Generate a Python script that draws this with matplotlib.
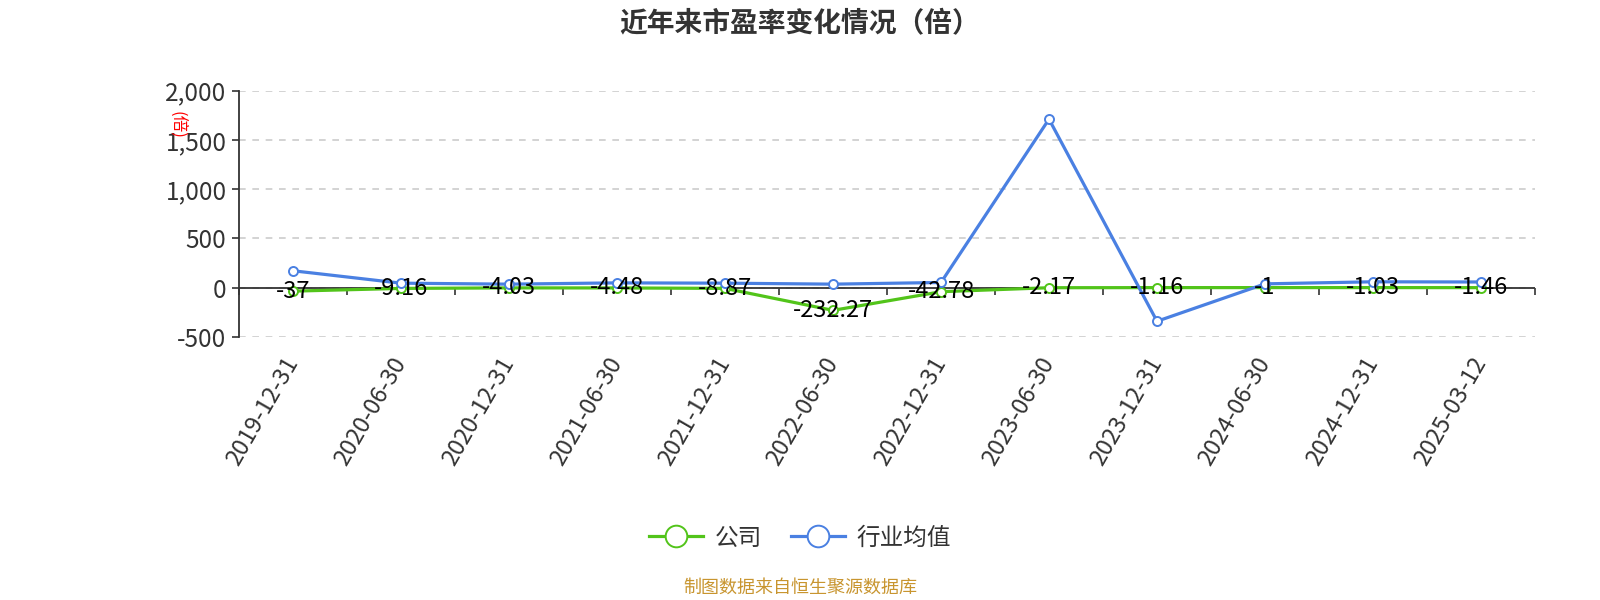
import matplotlib
matplotlib.use("Agg")
import matplotlib.pyplot as plt
from matplotlib.ticker import FuncFormatter, FixedLocator
import numpy as np

plt.rcParams['font.family'] = ['Noto Sans CJK SC', 'DejaVu Sans']
plt.rcParams['axes.unicode_minus'] = False

categories = ["2019-12-31", "2020-06-30", "2020-12-31", "2021-06-30", "2021-12-31",
              "2022-06-30", "2022-12-31", "2023-06-30", "2023-12-31", "2024-06-30",
              "2024-12-31", "2025-03-12"]
company = [-37, -9.16, -4.03, -4.48, -8.87, -232.27, -42.78, -2.17, -1.16, -1, -1.03, -1.46]
company_labels = ["-37", "-9.16", "-4.03", "-4.48", "-8.87", "-232.27", "-42.78", "-2.17",
                  "-1.16", "-1", "-1.03", "-1.46"]
industry = [170, 44, 34, 47, 44, 34, 51, 1711, -343, 37, 58, 56]
y_ticks = [-500, 0, 500, 1000, 1500, 2000]

GREEN = '#52c41a'
BLUE = '#4a80e2'
DARK = '#333333'

fig = plt.figure(figsize=(16, 6), dpi=100)
ax = fig.add_axes([239/1600, 1-336.7/600, (1535-239)/1600, (336.7-90.7)/600])

x = np.arange(len(categories))
ax.plot(x, company, color=GREEN, lw=2.3, marker='o', ms=6.5, mfc='white',
        mec=GREEN, mew=1.4, label='公司', zorder=4)
ax.plot(x, industry, color=BLUE, lw=2.3, marker='o', ms=6.5, mfc='white',
        mec=BLUE, mew=1.4, label='行业均值', zorder=5)

for xi, v, s in zip(x, company, company_labels):
    ax.text(xi, v, s, ha='center', va='center', fontsize=17, color='black', zorder=6)

ax.set_xlim(-0.5, len(categories) - 0.5)
ax.set_ylim(min(y_ticks), max(y_ticks))
ax.set_yticks(y_ticks)
ax.yaxis.set_major_formatter(FuncFormatter(lambda v, p: f"{int(v):,}"))
ax.tick_params(axis='y', labelsize=17.5, colors=DARK, length=5, width=1.2, pad=4)

ax.set_xticks(x)
ax.set_xticklabels(categories, rotation=60, ha='right', va='center',
                   rotation_mode='anchor', fontsize=17, color=DARK)
ax.tick_params(axis='x', length=0, pad=16)

for sp in ['top', 'right', 'bottom']:
    ax.spines[sp].set_visible(False)
ax.spines['left'].set_color(DARK)
ax.spines['left'].set_linewidth(1.3)

ax.yaxis.grid(True, linestyle=(0, (4, 4)), color='#cccccc', lw=1.2)
ax.set_axisbelow(True)

# x axis line at zero with band-boundary ticks
ax.axhline(0, color=DARK, lw=1.3, zorder=2.5)
sec = ax.secondary_xaxis((0 - min(y_ticks)) / (max(y_ticks) - min(y_ticks)))
sec.xaxis.set_major_locator(FixedLocator(list(np.arange(len(categories) + 1) - 0.5)))
sec.set_xticklabels([])
sec.tick_params(axis='x', direction='out', length=5, width=1.2, color=DARK)
for sp in ['top', 'left', 'right', 'bottom']:
    sec.spines[sp].set_visible(False)

fig.text(800/1600, 1-24/600, '近年来市盈率变化情况（倍）', ha='center', va='center',
         fontsize=20, fontweight='bold', color=DARK)
fig.text(177/1600, 1-125/600, '(倍)', ha='center', va='center', rotation=-90,
         fontsize=12, color='red')

leg = fig.legend(loc='center', bbox_to_anchor=(0.5, 1-538/600), ncol=2, frameon=False,
                 fontsize=17, markerscale=2.4, handlelength=2.3, columnspacing=1.2,
                 handletextpad=0.5)
for t in leg.get_texts():
    t.set_color(DARK)

fig.text(0.5, 1-588/600, '制图数据来自恒生聚源数据库', ha='center', va='center',
         fontsize=13, color='#c8952f')

fig.savefig('out.png', dpi=100)
